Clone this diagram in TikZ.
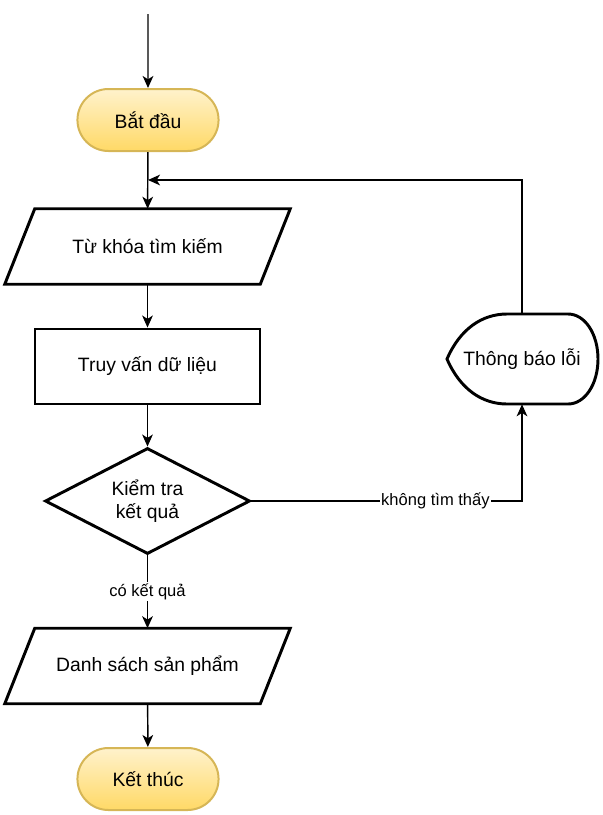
\documentclass[tikz,border=0pt]{standalone}
\usepackage{fontspec}
\setmainfont{Liberation Sans}
\usetikzlibrary{shapes.geometric,shapes.misc,arrows.meta}
\definecolor{termtop}{HTML}{FFF2CC}
\definecolor{termbot}{HTML}{FFD966}
\definecolor{termline}{HTML}{D6B656}
\begin{document}
\begin{tikzpicture}[x=0.75pt, y=-0.75pt,
  >={Stealth[length=9pt,width=8pt,inset=2.5pt]},
  every node/.style = {font=\fontsize{14.5}{17.5}\selectfont, align=center},
  terminal/.style = {rounded rectangle, draw=termline, line width=1.5pt,
    top color=termtop, bottom color=termbot, minimum width=112.5pt, minimum height=46.5pt},
  io/.style = {rectangle, minimum width=213.75pt, minimum height=56.25pt},
  process/.style = {rectangle, draw, line width=2.2pt, minimum width=168.75pt, minimum height=56.25pt},
  decision/.style = {diamond, aspect=2, draw, line width=2.2pt, minimum width=153.75pt, minimum height=79.5pt, inner sep=0pt},
  border/.style = {line width=2.2pt, line join=miter},
  flow/.style = {->, line width=1.1pt},
  lbl/.style = {font=\fontsize{12.4}{14}\selectfont, fill=white, inner sep=1pt}]
  \useasboundingbox (0,0) rectangle (603,815);

  \coordinate (entry) at (148,14);
  \node[terminal] (start) at (148,120) {Bắt đầu};
  \coordinate (join) at (148,180);
  \node[io] (keyword) at (147.5,246.5) {Từ khóa tìm kiếm};
  \node[process] (query) at (147.5,366.5) {Truy vấn dữ liệu};
  \node[decision] (check) at (147.5,501) {Kiểm tra\\kết quả};
  \node[io] (result) at (147.5,666) {Danh sách sản phẩm};
  \node[terminal] (finish) at (148,779) {Kết thúc};
  \node[minimum width=113.25pt, minimum height=67.5pt] (error) at (522,359) {Thông báo lỗi};

  % slanted outline of the data nodes
  \foreach \n in {keyword, result}
    \draw[border] ([xshift=22.5pt]\n.north west) -- (\n.north east)
      -- ([xshift=-22.5pt]\n.south east) -- (\n.south west) -- cycle;
  % display shape of the error node
  \begin{scope}[shift={(error.center)}]
    \draw[border] (-75,0) .. controls (-62,-30) and (-40,-45) .. (-15,-45) -- (46,-45)
      .. controls (63,-45) and (76,-25) .. (76,0) .. controls (76,25) and (63,45) .. (46,45)
      -- (-15,45) .. controls (-40,45) and (-62,30) .. cycle;
  \end{scope}

  \draw[flow] (entry) -- (start);
  \draw[flow] (start) -- (keyword);
  \draw[flow] (keyword) -- (query);
  \draw[flow] (query) -- (check);
  \draw[flow] (check) -- node[lbl] {có kết quả} (result);
  \draw[flow] (result) -- (finish);
  \draw[flow] (check.east) -| node[lbl, pos=0.34] {không tìm thấy} (error.south);
  \draw[flow] (error.north) |- (join);
\end{tikzpicture}
\end{document}
